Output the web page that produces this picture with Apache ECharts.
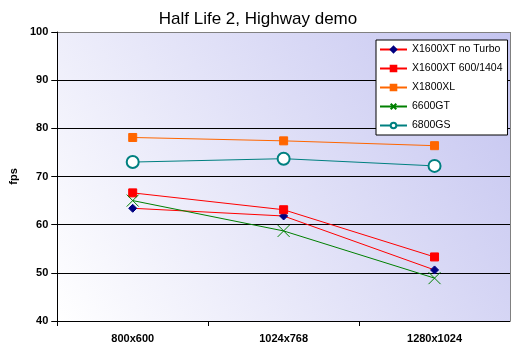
<!DOCTYPE html>
<html><head><meta charset="utf-8">
<script src="https://cdn.jsdelivr.net/npm/echarts@6/dist/echarts.min.js"></script>
<style>html,body{margin:0;padding:0;background:#fff}#c{width:522px;height:352px}</style>
</head><body><div id="c"></div>
<script>
const categories = ['800x600', '1024x768', '1280x1024'];
const x1600NoTurbo = [63.4, 61.8, 50.6];
const x1600_600 = [66.6, 63.1, 53.3];
const x1800XL = [78.1, 77.4, 76.4];
const gt6600 = [65.0, 58.7, 48.9];
const gs6800 = [73.0, 73.7, 72.2];
const yTicks = [40, 50, 60, 70, 80, 90, 100];

const chart = echarts.init(document.getElementById('c'), null, {renderer: 'canvas'});
const font = 'Arial, "Liberation Sans", sans-serif';
function ser(name, data, color, symbol, size, extra) {
  return Object.assign({
    name, type: 'line', data, symbol, symbolSize: size,
    lineStyle: {color, width: 1},
    itemStyle: {color, borderColor: color, borderWidth: 1},
    emphasis: {disabled: true}, animation: false
  }, extra || {});
}
chart.setOption({
  animation: false,
  title: {text: 'Half Life 2, Highway demo', left: 253, textAlign: 'center', top: 6,
    textStyle: {fontFamily: font, fontSize: 17, fontWeight: 'normal', color: '#000'}},
  grid: {left: 57, right: 12, top: 32, bottom: 31, show: true, borderWidth: 0,
    backgroundColor: new echarts.graphic.LinearGradient(0, 1, 1, 0, [
      {offset: 0, color: '#ffffff'}, {offset: 1, color: '#c4c4f0'}])},
  legend: {orient: 'vertical', left: 376, top: 40, padding: [4, 5, 4, 3],
    itemWidth: 27, itemHeight: 7, itemGap: 8,
    backgroundColor: '#fff', borderColor: '#000', borderWidth: 1, borderRadius: 0,
    textStyle: {fontFamily: font, fontSize: 10.5, color: '#000'}},
  xAxis: {type: 'category', data: categories, boundaryGap: true,
    axisLine: {lineStyle: {color: '#000', width: 1}},
    axisTick: {show: true, length: 5, inside: false, lineStyle: {color: '#000'}},
    axisLabel: {fontFamily: font, fontSize: 11, fontWeight: 'bold', color: '#000', margin: 12},
    splitLine: {show: false}},
  yAxis: {type: 'value', min: yTicks[0], max: yTicks[yTicks.length - 1], interval: 10,
    name: 'fps', nameLocation: 'middle', nameGap: 32, nameRotate: 90,
    nameTextStyle: {fontFamily: font, fontSize: 11, fontWeight: 'bold', color: '#000'},
    axisLine: {show: true, lineStyle: {color: '#000', width: 1}},
    axisTick: {show: true, length: 6, lineStyle: {color: '#000'}},
    axisLabel: {fontFamily: font, fontSize: 11, fontWeight: 'bold', color: '#000', margin: 9},
    splitLine: {show: true, lineStyle: {color: ['#000', '#000', '#000', '#000', '#000', '#000', '#808080'], width: 1}}},
  series: [
    ser('X1600XT no Turbo', x1600NoTurbo, '#ff0000', 'diamond', 8, {itemStyle: {color: '#000080', borderColor: '#000080', borderWidth: 1}}),
    ser('X1600XT 600/1404', x1600_600, '#ff0000', 'rect', 8),
    ser('X1800XL', x1800XL, '#ff6600', 'rect', 8),
    ser('6600GT', gt6600, '#008000', 'path://M0,0L10,10M10,0L0,10', 12, {itemStyle: {color: 'none', borderColor: '#008000', borderWidth: 1}}),
    ser('6800GS', gs6800, '#008080', 'emptyCircle', 12, {itemStyle: {color: '#008080', borderColor: '#008080', borderWidth: 1}})
  ],
  graphic: [{type: 'line', shape: {x1: 510.5, y1: 32, x2: 510.5, y2: 321}, style: {stroke: '#808080', lineWidth: 1}, z: 10}]
});
</script></body></html>
